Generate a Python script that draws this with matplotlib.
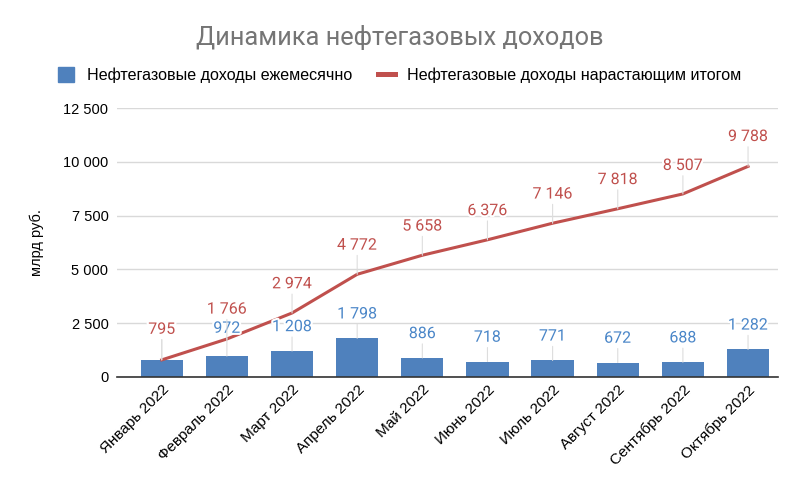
import matplotlib
matplotlib.use('Agg')
import matplotlib.pyplot as plt
import matplotlib.patheffects as pe
from matplotlib.ticker import FuncFormatter

months = ['Январь 2022', 'Февраль 2022', 'Март 2022', 'Апрель 2022', 'Май 2022',
          'Июнь 2022', 'Июль 2022', 'Август 2022', 'Сентябрь 2022', 'Октябрь 2022']
monthly = [795, 972, 1208, 1798, 886, 718, 771, 672, 688, 1282]
cumulative = [795, 1766, 2974, 4772, 5658, 6376, 7146, 7818, 8507, 9788]

bar_color = '#4f81bd'
line_color = '#c0504d'
bar_lbl_color = '#4a86c8'

# label centre offsets above the mark, in points
bar_off = [22, 20, 17.5, 17.5, 17.5, 17.5, 17.5, 17.5, 17.5, 17.5]
line_off = [22, 21.5, 21, 21, 21, 21, 21, 21, 20.5, 21.5]

plt.rcParams['font.family'] = ['Liberation Sans', 'DejaVu Sans']

fig = plt.figure(figsize=(8, 4.95), dpi=100)
ax = fig.add_axes([0.146, 0.2384, 0.8265, 0.5434])

x = list(range(len(months)))
ax.bar(x, monthly, width=0.65, color=bar_color, zorder=2)
ax.plot(x, cumulative, color=line_color, lw=2.2, zorder=3)

def fmt(v):
    return f'{v:,}'.replace(',', ' ')

stroke = [pe.withStroke(linewidth=3, foreground='white')]
for i in x:
    ax.annotate(fmt(monthly[i]), (i, monthly[i]), xytext=(0, bar_off[i]),
                textcoords='offset points', ha='center', va='center',
                color=bar_lbl_color, fontsize=11.5, family='Roboto',
                path_effects=stroke, zorder=4,
                arrowprops=dict(arrowstyle='-', color='#dddddd', lw=0.8,
                                shrinkA=0, shrinkB=0))
for i in x:
    ax.annotate(fmt(cumulative[i]), (i, cumulative[i]), xytext=(0, line_off[i]),
                textcoords='offset points', ha='center', va='center',
                color=line_color, fontsize=11.5, family='Roboto',
                path_effects=stroke, zorder=5,
                arrowprops=dict(arrowstyle='-', color='#dddddd', lw=0.8,
                                shrinkA=0, shrinkB=0))

ax.set_xlim(-0.69, 9.46)
ax.set_ylim(0, 12500)
ax.set_yticks(range(0, 12501, 2500))
ax.yaxis.set_major_formatter(FuncFormatter(lambda v, p: fmt(int(v))))
ax.grid(axis='y', color='#d9d9d9', lw=1, zorder=0)
ax.set_axisbelow(True)
for s in ['left', 'right', 'top']:
    ax.spines[s].set_visible(False)
ax.spines['bottom'].set_color('#333333')
ax.spines['bottom'].set_linewidth(1.2)
ax.tick_params(axis='y', length=0, labelsize=10.5, pad=6)
ax.tick_params(axis='x', length=0, labelsize=11, pad=4)
ax.set_xticks(x)
ax.set_xticklabels(months, rotation=45, ha='right', rotation_mode='anchor')
ax.set_ylabel('млрд руб.', fontsize=10.5, labelpad=14)

fig.text(0.5, 0.925, 'Динамика нефтегазовых доходов', ha='center', va='center',
         fontsize=18.3, color='#757575', family=['Roboto', 'DejaVu Sans'])

h1 = plt.Rectangle((0, 0), 1, 1, color=bar_color)
h2 = plt.Line2D([], [], color=line_color, lw=3.6)
fig.legend([h1, h2], ['Нефтегазовые доходы ежемесячно', 'Нефтегазовые доходы нарастающим итогом'],
           loc='center', bbox_to_anchor=(0.5, 0.848), ncol=2, frameon=False,
           fontsize=11.6, handlelength=1.0, handleheight=1.0, columnspacing=1.6,
           handletextpad=0.8)

fig.savefig('out.png', dpi=100)
